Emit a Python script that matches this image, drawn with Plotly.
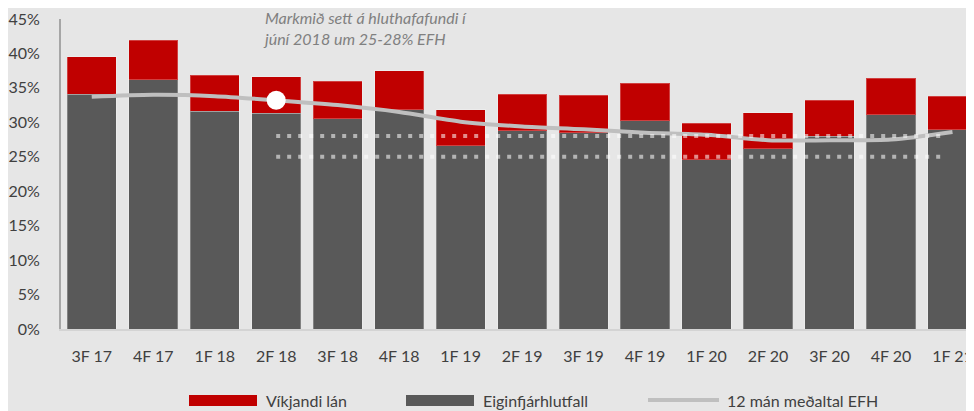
import plotly.graph_objects as go

categories = ["3F 17", "4F 17", "1F 18", "2F 18", "3F 18", "4F 18", "1F 19", "2F 19",
              "3F 19", "4F 19", "1F 20", "2F 20", "3F 20", "4F 20", "1F 21"]
eiginfjarhlutfall = [34.1, 36.2, 31.6, 31.3, 30.5, 31.8, 26.6, 28.8,
                     28.5, 30.2, 24.6, 26.2, 28.0, 31.1, 28.9]
vikjandi_lan = [5.4, 5.7, 5.2, 5.3, 5.5, 5.7, 5.2, 5.3,
                5.4, 5.5, 5.3, 5.2, 5.2, 5.3, 4.9]
medaltal_12man = [33.7, 34.0, 33.8, 33.2, 32.5, 31.5, 30.1, 29.4,
                  29.0, 28.5, 28.2, 27.4, 27.4, 27.5, 28.6]
target_low, target_high = 25.0, 28.0
target_start_idx, target_end_idx = 3, 13.88
highlight_idx = 3

series_names = ["Víkjandi lán", "Eiginfjárhlutfall", "12 mán meðaltal EFH"]
y_ticks = [0, 5, 10, 15, 20, 25, 30, 35, 40, 45]
y_ticktext = [f"{v}%" for v in y_ticks]
note_text = "<i>Markmið sett á hluthafafundi í<br>júní 2018 um 25-28% EFH</i>"

RED = "#c00000"
GRAY = "#595959"
LINE = "#bfbfbf"
BG = "#e6e6e6"
FONT = "Lato"

# page body has an 8px default margin; target picture coordinates are shifted by it
OFF = 8
W, H = 974 - OFF, 411 - OFF
L, R, T, B = 61 - OFF, 0, 19 - OFF, 82
pw, ph = W - L - R, H - T - B


def px(x):
    return (x - OFF - L) / pw


def py(y):
    return (H - B - (y - OFF)) / ph


fig = go.Figure()
fig.add_trace(go.Bar(x=categories, y=eiginfjarhlutfall, name=series_names[1],
                     marker=dict(color=GRAY, line=dict(color="rgba(255,255,255,0.25)", width=1))))
fig.add_trace(go.Bar(x=categories, y=vikjandi_lan, name=series_names[0],
                     marker=dict(color=RED, line=dict(color="rgba(255,255,255,0.25)", width=1))))
fig.add_trace(go.Scatter(x=categories, y=medaltal_12man, name=series_names[2], mode="lines",
                         line=dict(color=LINE, width=4, shape="spline", smoothing=0.8)))
fig.add_trace(go.Scatter(x=[categories[highlight_idx]], y=[medaltal_12man[highlight_idx]],
                         mode="markers", showlegend=False,
                         marker=dict(color="white", size=19, line=dict(width=0))))

shapes = []
for yv in (target_high, target_low):
    shapes.append(dict(type="line", xref="x", yref="y", x0=target_start_idx, x1=target_end_idx,
                       y0=yv, y1=yv, line=dict(color="rgba(255,255,255,0.55)", width=4, dash="4px,7px"),
                       layer="above"))

# custom legend
leg_y = 400
legend_items = [
    (189, 257, 264, "bar", RED, series_names[0]),
    (406, 474, 481, "bar", GRAY, series_names[1]),
    (648, 719, 725, "line", LINE, series_names[2]),
]
annotations = []
for x0, x1, tx, kind, col, name in legend_items:
    if kind == "bar":
        shapes.append(dict(type="rect", xref="paper", yref="paper", x0=px(x0), x1=px(x1),
                           y0=py(406), y1=py(395), fillcolor=col, line=dict(width=0)))
    else:
        shapes.append(dict(type="line", xref="paper", yref="paper", x0=px(x0), x1=px(x1),
                           y0=py(leg_y), y1=py(leg_y), line=dict(color=col, width=4)))
    annotations.append(dict(xref="paper", yref="paper", x=px(tx), y=py(leg_y), text=name,
                            showarrow=False, xanchor="left", yanchor="middle",
                            font=dict(family=FONT, size=16, color="#404040")))

annotations.append(dict(xref="paper", yref="paper", x=px(261), y=py(27.5), text=note_text,
                        showarrow=False, xanchor="left", yanchor="middle", align="left",
                        font=dict(family=FONT, size=16, color="#808080")))

fig.update_layout(
    width=W, height=H, barmode="stack", bargap=0.2,
    paper_bgcolor=BG, plot_bgcolor=BG,
    margin=dict(l=L, r=R, t=T, b=B, pad=0),
    showlegend=False,
    shapes=shapes, annotations=annotations,
    font=dict(family=FONT, size=16, color="#404040"),
    xaxis=dict(type="category", range=[-0.5, 14.35], showgrid=False, zeroline=False,
               showline=True, linecolor="#d4d4d4", linewidth=2, ticks="", ticklabelstandoff=12,
               tickfont=dict(family=FONT, size=16, color="#404040")),
    yaxis=dict(range=[0, 45], tickvals=y_ticks, ticktext=y_ticktext, showgrid=False, zeroline=False,
               showline=True, linecolor="#a6a6a6", linewidth=2, ticks="", ticklabelstandoff=16,
               ticklabeloverflow="allow",
               tickfont=dict(family=FONT, size=16, color="#404040")),
)

fig.write_html("out.html")
